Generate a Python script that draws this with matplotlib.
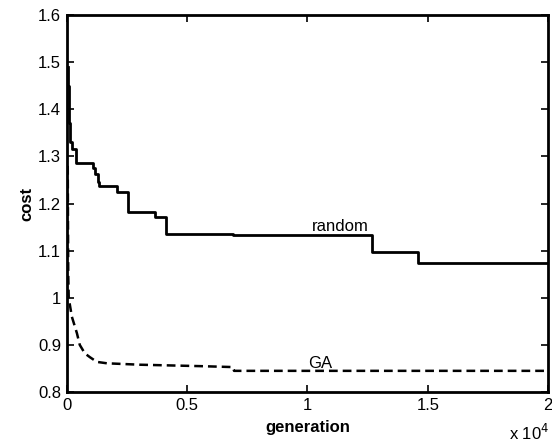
import matplotlib
matplotlib.use("Agg")
import matplotlib.pyplot as plt
from matplotlib.ticker import FuncFormatter

# step points (generation, cost)
random_gen = [50, 60, 80, 100, 140, 230, 380, 1080, 1180, 1280, 1350, 2080, 2540,
              3670, 4120, 6900, 12700, 14600, 20000]
random_cost = [1.49, 1.45, 1.40, 1.37, 1.33, 1.315, 1.287, 1.275, 1.262, 1.245,
               1.237, 1.224, 1.182, 1.171, 1.136, 1.134, 1.098, 1.073, 1.073]

ga_gen = [40, 50, 60, 80, 210, 420, 540, 750, 960, 1250, 1670, 3040, 5540, 6900,
          6950, 20000]
ga_cost = [1.28, 1.15, 1.05, 1.0, 0.96, 0.925, 0.90, 0.882, 0.874, 0.864, 0.861,
           0.858, 0.855, 0.853, 0.845, 0.845]

x_ticks = [0, 5000, 10000, 15000, 20000]
y_ticks = [0.8, 0.9, 1.0, 1.1, 1.2, 1.3, 1.4, 1.5, 1.6]

plt.rcParams['font.family'] = ['Liberation Sans', 'DejaVu Sans']

fig = plt.figure(figsize=(5.52, 4.45), dpi=100)
ax = fig.add_axes([0.121, 0.119, 0.872, 0.847])

ax.step(random_gen, random_cost, where='post', color='black', lw=2)
ax.plot(ga_gen, ga_cost, color='black', lw=1.8, ls=(0, (3.5, 2)))

ax.text(11375, 1.136, 'random', ha='center', va='bottom', fontsize=12)
ax.text(10540, 0.845, 'GA', ha='center', va='bottom', fontsize=12)

ax.set_xlim(0, 20000)
ax.set_ylim(0.8, 1.6)
ax.set_xticks(x_ticks)
ax.set_yticks(y_ticks)
ax.xaxis.set_major_formatter(FuncFormatter(lambda v, p: '%g' % (v / 1e4)))
ax.yaxis.set_major_formatter(FuncFormatter(lambda v, p: '%g' % round(v, 1)))

ax.tick_params(direction='in', length=5, width=1.2, top=True, right=True,
               labelsize=12, pad=4)
for s in ax.spines.values():
    s.set_linewidth(2)

ax.set_xlabel('generation', fontsize=12, fontweight='bold', labelpad=5)
ax.set_ylabel('cost', fontsize=12, fontweight='bold', labelpad=3)
fig.text(0.995, 0.005, 'x 10$^4$', ha='right', va='bottom', fontsize=12)

fig.savefig('out.png', dpi=100)
